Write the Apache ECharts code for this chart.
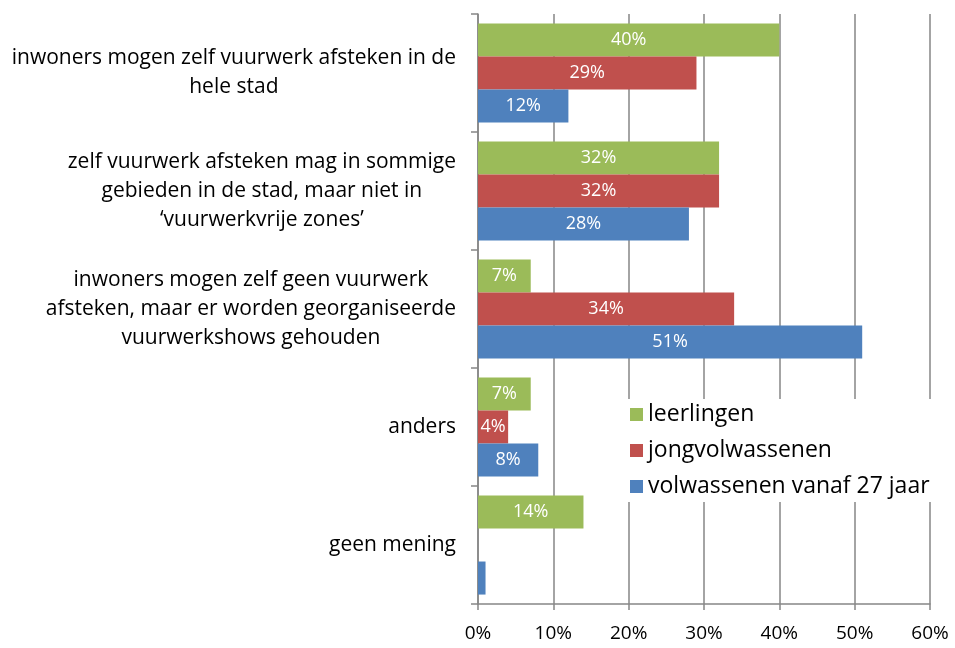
<!DOCTYPE html>
<html>
<head>
<meta charset="utf-8">
<script src="https://cdn.jsdelivr.net/npm/echarts@6/dist/echarts.min.js"></script>
<style>
  html, body { margin: 0; padding: 0; background: #fff; }
  #chart { width: 955px; height: 648px; }
</style>
</head>
<body>
<div id="chart"></div>
<script>
// categories (top to bottom), lines broken as in the picture
var categories = [
    'inwoners mogen zelf vuurwerk afsteken in de\nhele stad',
    'zelf vuurwerk afsteken mag in sommige\ngebieden in de stad, maar niet in\n\u2018vuurwerkvrije zones\u2019',
    'inwoners mogen zelf geen vuurwerk\nafsteken, maar er worden georganiseerde\nvuurwerkshows gehouden',
    'anders',
    'geen mening'
];
var seriesNames = ['leerlingen', 'jongvolwassenen', 'volwassenen vanaf 27 jaar'];
var leerlingen = [40, 32, 7, 7, 14];
var jongvolwassenen = [29, 32, 34, 4, 0];
var volwassenen = [12, 28, 51, 8, 1];
var xTicks = [0, 10, 20, 30, 40, 50, 60];

var colors = ['#9BBB59', '#C0504D', '#4F81BD'];
var font = 'Open Sans';

var chart = echarts.init(document.getElementById('chart'));

function makeSeries(name, data, color) {
    return {
        name: name,
        type: 'bar',
        data: data,
        barGap: '0%',
        barCategoryGap: '16%',
        itemStyle: {color: color},
        label: {
            show: true,
            position: 'inside',
            color: '#fff',
            fontFamily: font,
            fontSize: 18,
            formatter: function (p) {
                return p.value < 2 ? '' : p.value + '%';
            }
        }
    };
}

var options = {
    animation: false,
    backgroundColor: '#fff',
    color: colors,
    grid: {left: 478, right: 25, top: 14, bottom: 44},
    legend: {
        orient: 'vertical',
        left: 622,
        top: 399,
        padding: [4, 8, 4, 8],
        backgroundColor: '#fff',
        itemWidth: 13,
        itemHeight: 13,
        itemGap: 13,
        icon: 'rect',
        textStyle: {fontFamily: font, fontSize: 23, color: '#000'},
        data: seriesNames
    },
    xAxis: {
        type: 'value',
        min: 0,
        max: 60,
        interval: 10,
        axisLine: {show: true, lineStyle: {color: '#868686', width: 1.5}},
        axisTick: {show: true, length: 6, lineStyle: {color: '#868686', width: 1.5}},
        splitLine: {show: true, lineStyle: {color: '#868686', width: 1.5}},
        axisLabel: {
            fontFamily: font, fontSize: 19, color: '#000', margin: 20,
            formatter: function (v) { return xTicks.indexOf(v) >= 0 ? v + '%' : ''; }
        }
    },
    yAxis: {
        type: 'category',
        inverse: true,
        data: categories,
        axisLine: {show: true, lineStyle: {color: '#868686', width: 1.5}},
        axisTick: {show: true, length: 7, lineStyle: {color: '#868686', width: 1.5}},
        axisLabel: {
            margin: 22,
            formatter: function (v) {
                return v.split('\n').map(function (l) { return '{c|' + l + '}'; }).join('\n');
            },
            rich: {
                c: {align: 'center', fontFamily: font, fontSize: 21, color: '#000', lineHeight: 29}
            }
        }
    },
    series: [
        makeSeries(seriesNames[0], leerlingen, colors[0]),
        makeSeries(seriesNames[1], jongvolwassenen, colors[1]),
        makeSeries(seriesNames[2], volwassenen, colors[2])
    ]
};
chart.setOption(options);
</script>
</body>
</html>
